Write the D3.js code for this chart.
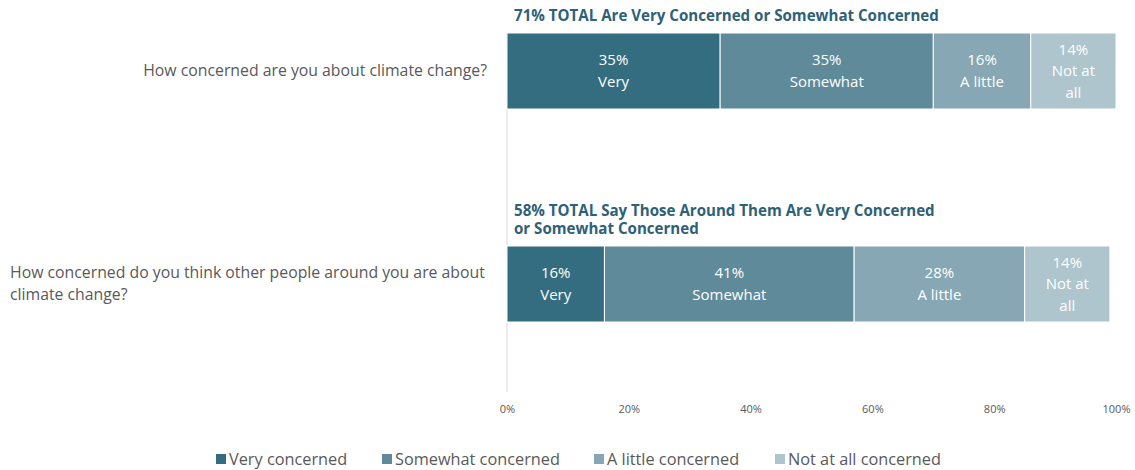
<!DOCTYPE html>
<html>
<head>
<meta charset="utf-8">
<script src="https://cdn.jsdelivr.net/npm/d3@7"></script>
<style>
  body { margin: 0; background: #fff; }
  text { font-family: "Open Sans", sans-serif; }
</style>
</head>
<body>
<svg id="chart" width="1135" height="470"></svg>
<script>
const questions = [
  ["How concerned are you about climate change?"],
  ["How concerned do you think other people around you are about", "climate change?"]
]
const titles = [
  ["71% TOTAL Are Very Concerned or Somewhat Concerned"],
  ["58% TOTAL Say Those Around Them Are Very Concerned", "or Somewhat Concerned"]
]
const series = ["Very concerned", "Somewhat concerned", "A little concerned", "Not at all concerned"]
const shortNames = [["Very"], ["Somewhat"], ["A little"], ["Not at", "all"]]
const selfValues = [35, 35, 16, 14]
const othersValues = [16, 41, 28, 14]
const tickValues = [0, 20, 40, 60, 80, 100]
const colours = ["#346d80", "#5f8a9a", "#86a7b3", "#aec5cd"]

const svg = d3.select("#chart")

const x = d3.scaleLinear().domain([0, 100]).range([507, 1116])
// bars sit at y 33 and ~246, height ~76
const barH = 76
const barY = [33, 246]

// light vertical axis line
svg.append("line")
  .attr("x1", x(0)).attr("x2", x(0))
  .attr("y1", 33).attr("y2", 392)
  .attr("stroke", "#d9d9d9").attr("stroke-width", 1)

// x axis tick labels
svg.append("g")
  .attr("transform", "translate(0,402)")
  .call(d3.axisBottom(x).tickValues(tickValues).tickFormat(d => d + "%").tickSize(0))
  .call(g => g.select(".domain").remove())
  .selectAll("text")
  .attr("font-size", 11)
  .attr("fill", "#595959")
  .style("font-family", "'Open Sans', sans-serif")

const rows = [selfValues, othersValues]

rows.forEach((vals, r) => {
  let acc = 0
  const segs = vals.map((v, i) => {
    const s = { start: acc, value: v, i }
    acc += v
    return s
  })
  const g = svg.append("g")

  g.selectAll("rect")
    .data(segs)
    .join("rect")
    .attr("x", d => x(d.start))
    .attr("y", barY[r])
    .attr("width", d => x(d.start + d.value) - x(d.start))
    .attr("height", barH)
    .attr("fill", d => colours[d.i])
    .attr("stroke", "#fff")
    .attr("stroke-width", 1)

  const lab = g.selectAll("text.seg")
    .data(segs)
    .join("text")
    .attr("class", "seg")
    .attr("text-anchor", "middle")
    .attr("fill", "#fff")
    .attr("font-size", 15)
  lab.each(function(d) {
    const lines = [d.value + "%"].concat(shortNames[d.i])
    const cx = (x(d.start) + x(d.start + d.value)) / 2
    const cy = barY[r] + barH / 2
    const lh = 21.5
    const top = cy - (lines.length - 1) * lh / 2 + 5
    d3.select(this).selectAll("tspan")
      .data(lines)
      .join("tspan")
      .attr("x", cx)
      .attr("y", (t, k) => top + k * lh)
      .text(t => t)
  })

  // title above bar
  const tt = titles[r]
  svg.append("text")
    .attr("font-size", 15.1)
    .attr("font-weight", "bold")
    .attr("fill", "#2e6177")
    .selectAll("tspan")
    .data(tt)
    .join("tspan")
    .attr("x", 514)
    .attr("y", (t, k) => barY[r] - 12 - (tt.length - 1 - k) * 18.5)
    .text(t => t)

  // question label
  const q = questions[r]
  const qt = svg.append("text")
    .attr("font-size", 15.8)
    .attr("fill", "#595959")
  if (q.length === 1) {
    qt.attr("text-anchor", "end")
      .append("tspan").attr("x", 487).attr("y", barY[r] + barH / 2 + 5).text(q[0])
  } else {
    qt.selectAll("tspan")
      .data(q)
      .join("tspan")
      .attr("x", 10)
      .attr("y", (t, k) => barY[r] + barH / 2 - 11 + 5 + k * 22)
      .text(t => t)
  }
})

// legend
const legendX = [216, 382, 594, 775]
const leg = svg.append("g").selectAll("g")
  .data(series)
  .join("g")
  .attr("transform", (d, i) => `translate(${legendX[i]},454)`)
leg.append("rect")
  .attr("width", 10).attr("height", 10)
  .attr("fill", (d, i) => colours[i])
leg.append("text")
  .attr("x", 13).attr("y", 11)
  .attr("font-size", 16.3)
  .attr("fill", "#595959")
  .text(d => d)
</script>
</body>
</html>
